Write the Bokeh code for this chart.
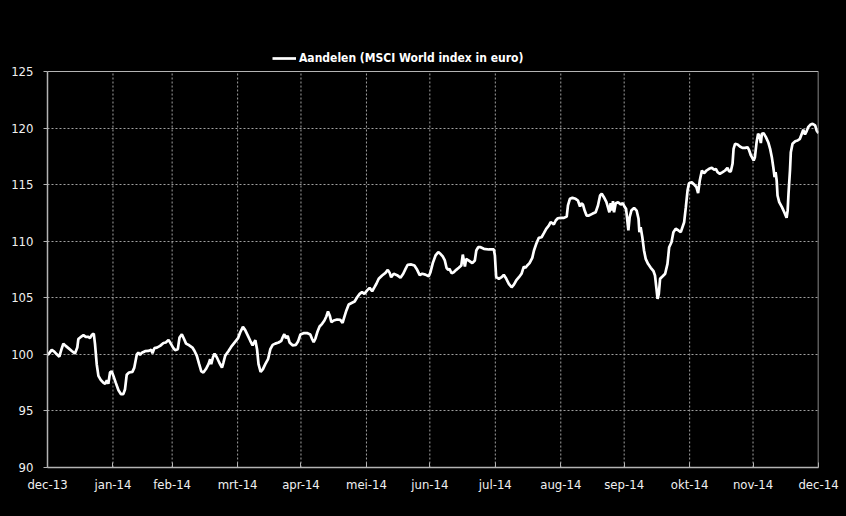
from bokeh.plotting import figure
from bokeh.models import (FixedTicker, Legend, LegendItem, Range1d, ColumnDataSource, Span)
from bokeh.embed import file_html
from bokeh.resources import INLINE

# Days since 31-12-2013 and index values (MSCI World in euro, 31-12-2013 = 100)
days = [
    0.0, 0.4, 1.2, 2.0, 3.2, 4.4, 5.6, 6.7, 7.5, 8.6, 9.9, 11.5, 13.0, 14.1, 14.6, 16.2, 17.0, 18.1, 19.3, 20.1,
    21.0, 21.9, 22.5, 23.3, 24.1, 25.2, 26.4, 27.3, 28.1, 28.8, 29.6, 30.4, 31.2, 32.3, 33.6, 34.8, 35.9, 36.7,
    37.5, 38.6, 40.2, 41.1, 42.3, 43.0, 43.8, 44.7, 46.2, 47.8, 49.1, 49.7, 50.6, 51.8, 53.3, 54.9, 56.0, 57.3,
    58.5, 59.6, 60.4,
    61.7, 62.5, 63.6, 64.7, 65.6, 67.1, 68.6, 69.6, 70.7, 71.8, 72.8, 73.8, 75.0, 76.2, 77.0, 77.5, 78.3, 79.1,
    80.2, 81.3, 82.6, 83.3, 84.1, 85.7, 87.3, 88.9, 90.2, 91.2, 92.5, 93.6, 94.9, 96.0, 97.1, 98.4, 99.2, 99.9,
    100.9, 102.0, 103.1, 104.4, 105.5, 106.6, 107.8, 109.4, 110.7, 111.3, 112.1, 112.9, 113.7, 114.6, 116.0,
    117.6, 118.6, 119.7, 121.2,
    123.1, 124.4, 125.2, 126.0, 126.8, 127.9, 128.8, 130.0, 131.1, 132.0, 132.8, 133.6, 134.4, 135.5, 137.1,
    138.6, 139.7, 140.5, 141.5, 142.6, 144.2, 145.4, 146.6, 147.8, 148.9, 150.0, 151.3, 152.5, 153.7, 154.8,
    155.7, 156.8, 158.4, 160.0, 161.1, 162.0, 162.7, 163.9, 165.5, 167.1, 168.4, 169.5, 170.5, 172.2, 173.7,
    175.0, 176.2, 177.4, 178.9,
    180.5, 181.3, 182.4, 183.7, 185.0, 186.0, 187.1, 188.1, 188.9, 189.7, 190.3, 191.3, 192.3, 193.5, 194.7,
    195.9, 196.6, 197.6, 198.2, 199.5, 201.1, 202.3, 203.0, 203.9, 205.0, 206.6, 208.9, 211.3, 211.8, 212.4,
    213.7, 215.0, 216.0, 217.2, 218.4, 219.7, 220.8, 221.9, 223.2, 224.4, 225.5, 226.3, 227.1, 228.2, 229.5,
    230.3, 231.4, 232.6, 233.9, 235.0, 236.1, 237.4, 238.2,
    239.0, 239.7, 240.6, 241.6, 242.9, 244.5, 245.8, 246.4, 247.3, 248.5, 250.0, 251.1, 252.1, 252.7, 253.5,
    254.3, 255.2, 256.3, 257.9, 259.5, 260.6, 261.6, 262.4, 263.4, 264.6, 265.3, 266.0, 266.6, 267.1, 267.7,
    268.2, 269.0, 270.1, 271.4, 272.3, 273.3, 273.9, 274.5, 275.0, 275.6, 276.4, 277.7, 278.9, 279.8, 280.2,
    280.8, 281.6, 282.4, 283.2, 284.3, 285.6, 286.9, 287.6, 288.3, 288.8, 289.4, 290.0, 291.1, 292.4, 293.5,
    294.3, 295.4, 296.3, 297.4, 298.7, 299.8,
    301.4, 302.2, 303.0, 303.7, 305.0, 306.1, 307.2, 308.0, 308.8, 309.8, 310.8, 312.0, 313.2, 314.5, 315.6,
    316.4, 317.2, 318.3, 319.6, 320.8, 321.9, 322.7, 323.5, 324.3, 324.8, 325.5, 326.7, 327.8, 329.0, 330.3,
    331.4, 332.2, 333.0, 334.3, 334.9, 335.7, 336.4, 337.2, 337.7, 338.2, 339.0, 340.1, 341.2, 342.1, 342.9,
    343.7, 344.2, 344.7, 345.2, 345.6, 346.4, 347.7, 348.8, 349.9, 350.4, 350.8, 351.5, 351.9, 352.7, 354.0,
    355.1, 356.2, 357.1, 357.8, 358.6, 359.4, 360.1, 361.1, 362.2, 363.4, 364.1, 365.0,
]

aandelen = [
    100.0, 100.0, 100.2, 100.4, 100.25, 100.0, 99.8, 100.5, 100.95, 100.75, 100.55, 100.3, 100.07, 100.6, 101.35,
    101.6, 101.7, 101.55, 101.55, 101.43, 101.72, 101.84, 100.9, 99.13, 98.1, 97.75, 97.5, 97.4, 97.7, 97.4,
    98.4, 98.5, 98.1, 97.5, 96.83, 96.48, 96.48, 96.92, 98.2, 98.4, 98.45, 98.83, 100.0, 100.15, 99.95, 100.15,
    100.28, 100.3, 100.4, 100.1, 100.55, 100.6, 100.75, 101.0, 101.05, 101.28, 100.9, 100.55, 100.37,
    100.46, 101.49, 101.78, 101.34, 100.95, 100.8, 100.6, 100.3, 99.87, 99.13, 98.5, 98.4, 98.7, 99.13, 99.57,
    99.13, 99.72, 100.07, 99.72, 99.28, 98.83, 99.28, 99.87, 100.3, 100.75, 101.13, 101.43, 101.93, 102.43,
    102.14, 101.63, 101.2, 100.8, 101.25, 100.46, 99.13, 98.45, 98.7, 99.13, 99.57, 100.46, 100.84, 100.95,
    101.05, 101.2, 101.49, 101.78, 101.43, 101.63, 101.05, 100.8, 100.84, 101.13, 101.75, 101.87,
    101.87, 101.76, 101.38, 101.08, 101.38, 102.05, 102.46, 102.7, 102.99, 103.35, 103.79, 103.44, 102.84,
    102.99, 103.08, 103.05, 102.79, 103.29, 103.88, 104.41, 104.56, 104.67, 105.05, 105.35, 105.5, 105.35,
    105.65, 105.88, 105.58, 105.94, 106.24, 106.68, 106.97, 107.2, 107.47, 107.2, 106.82, 107.12, 107.0,
    106.77, 107.12, 107.56, 107.92, 107.95, 107.85, 107.47, 107.0, 107.12, 107.05,
    106.9, 107.26, 108.06, 108.74, 109.03, 108.89, 108.65, 108.3, 107.65, 107.47, 107.56, 107.17, 107.26,
    107.47, 107.65, 107.85, 108.82, 107.76, 108.44, 108.29, 108.06, 108.29, 109.18, 109.47, 109.47, 109.33,
    109.27, 109.27, 108.74, 106.82, 106.68, 106.82, 107.03, 106.68, 106.23, 105.93, 106.17, 106.53, 106.82,
    107.12, 107.76, 107.65, 107.85, 108.06, 108.53, 109.18, 109.77, 110.3, 110.35, 110.71, 111.1, 111.39,
    111.68,
    111.6, 111.48, 111.83, 112.03, 112.06, 112.06, 112.18, 113.16, 113.75, 113.83, 113.75, 113.6, 113.07,
    113.36, 113.24, 112.71, 112.27, 112.27, 112.42, 112.56, 113.16, 114.04, 114.19, 113.89, 113.45, 113.01,
    112.56, 113.36, 112.71, 113.54, 112.56, 113.36, 113.45, 113.24, 113.36, 113.01, 112.86, 111.83, 110.95,
    112.12, 112.71, 112.95, 112.71, 111.98, 110.8, 111.24, 110.35, 109.18, 108.44, 108.0, 107.65, 107.35,
    106.97, 105.79, 104.91, 105.35, 106.68, 106.88, 107.12, 108.0, 109.47, 109.91, 110.8, 111.1, 110.95,
    110.8,
    111.68, 113.01, 114.48, 115.13, 115.22, 115.02, 114.78, 114.25, 115.37, 116.25, 116.01, 116.25, 116.4,
    116.49, 116.31, 116.4, 116.1, 115.96, 116.1, 116.25, 116.49, 116.16, 116.18, 116.84, 118.17, 118.61,
    118.55, 118.37, 118.25, 118.25, 118.31, 118.02, 117.58, 117.14, 117.43, 118.75, 119.5, 119.26, 118.67,
    119.5, 119.55, 119.2, 118.75, 118.17, 117.43, 116.4, 115.66, 116.1, 115.37, 114.04, 113.45, 113.01,
    112.56, 112.07, 112.72, 114.19, 116.25, 117.87, 118.61, 118.84, 118.9, 119.05, 119.5, 119.85, 119.43,
    119.73, 120.08, 120.29, 120.38, 120.23, 119.79, 119.55,
]

month_ticks = [0, 31, 59, 90, 120, 151, 181, 212, 243, 273, 304, 334, 365]
month_labels = ["dec-13", "jan-14", "feb-14", "mrt-14", "apr-14", "mei-14", "jun-14",
                "jul-14", "aug-14", "sep-14", "okt-14", "nov-14", "dec-14"]
y_ticks = [90, 95, 100, 105, 110, 115, 120, 125]
series_name = "Aandelen (MSCI World index in euro)"

FONT = "DejaVu Sans Condensed"
GRID = "#a0a0a0"
AXIS = "#b4b4b4"
TEXT = "#f0f0f0"

y_min, y_max = y_ticks[0], y_ticks[-1]
x_min, x_max = month_ticks[0], month_ticks[-1]

# frame extends above the 125 line to leave room for the legend (top at 44px, 125 at 71px)
TOP = 44
FRAME_BOTTOM = 467
y_top = y_min + (y_max - y_min) * (FRAME_BOTTOM - TOP) / (FRAME_BOTTOM - 71)

p = figure(width=846, height=516, output_backend="svg", toolbar_location=None,
           x_range=Range1d(x_min, x_max), y_range=Range1d(y_min, y_top),
           background_fill_color="black", border_fill_color="black",
           min_border_left=47, min_border_right=28, min_border_top=TOP,
           min_border_bottom=516 - FRAME_BOTTOM)
p.outline_line_color = None
p.outline_line_alpha = 0

# vertical dotted grid lines between 90 and 125
p.xgrid.grid_line_color = None
inner = month_ticks[1:-1]
p.segment(x0=inner, y0=[y_min] * len(inner), x1=inner, y1=[y_max] * len(inner),
          line_color=GRID, line_dash="2 2", line_width=1)

p.ygrid.ticker = FixedTicker(ticks=y_ticks)
p.ygrid.grid_line_color = GRID
p.ygrid.grid_line_dash = "2 2"
p.ygrid.grid_line_width = 1

src = ColumnDataSource(dict(x=days, y=aandelen))
r = p.line("x", "y", source=src, line_color="white", line_width=2.7)

# top and right border of the plot area
p.add_layout(Span(location=y_max, dimension="width", line_color=AXIS, line_width=1))
p.segment(x0=[x_max], y0=[y_min], x1=[x_max], y1=[y_max], line_color=AXIS, line_width=1.5)

p.xaxis.ticker = FixedTicker(ticks=month_ticks)
p.xaxis.major_label_overrides = {t: l for t, l in zip(month_ticks, month_labels)}
p.yaxis.ticker = FixedTicker(ticks=y_ticks)
p.yaxis.bounds = (y_min, y_max)

for ax in (p.xaxis, p.yaxis):
    ax.axis_line_color = AXIS
    ax.axis_line_width = 1.5
    ax.major_tick_line_color = AXIS
    ax.minor_tick_line_color = None
    ax.major_label_text_color = TEXT
    ax.major_label_text_font = FONT
    ax.major_label_text_font_size = "13px"

p.xaxis.major_tick_in = 5
p.xaxis.major_tick_out = 0
p.xaxis.major_label_standoff = 9
p.yaxis.major_tick_in = 0
p.yaxis.major_tick_out = 4
p.yaxis.major_label_standoff = 10

legend = Legend(items=[LegendItem(label=series_name, renderers=[r])],
                location=(225, 402), orientation="horizontal",
                background_fill_alpha=0, border_line_color=None,
                label_text_color="white", label_text_font=FONT,
                label_text_font_style="bold", label_text_font_size="12px",
                glyph_width=24, glyph_height=14, label_height=14,
                label_standoff=3, padding=2, margin=0)
p.add_layout(legend, "center")

html = file_html(p, INLINE)
html = html.replace("<body>", '<body style="margin:0;background:#000000;">', 1)
html = html.replace("</head>", "<style>html,body{margin:0;padding:0;background:#000;border:0;}</style></head>", 1)
open("out.html", "w").write(html)
